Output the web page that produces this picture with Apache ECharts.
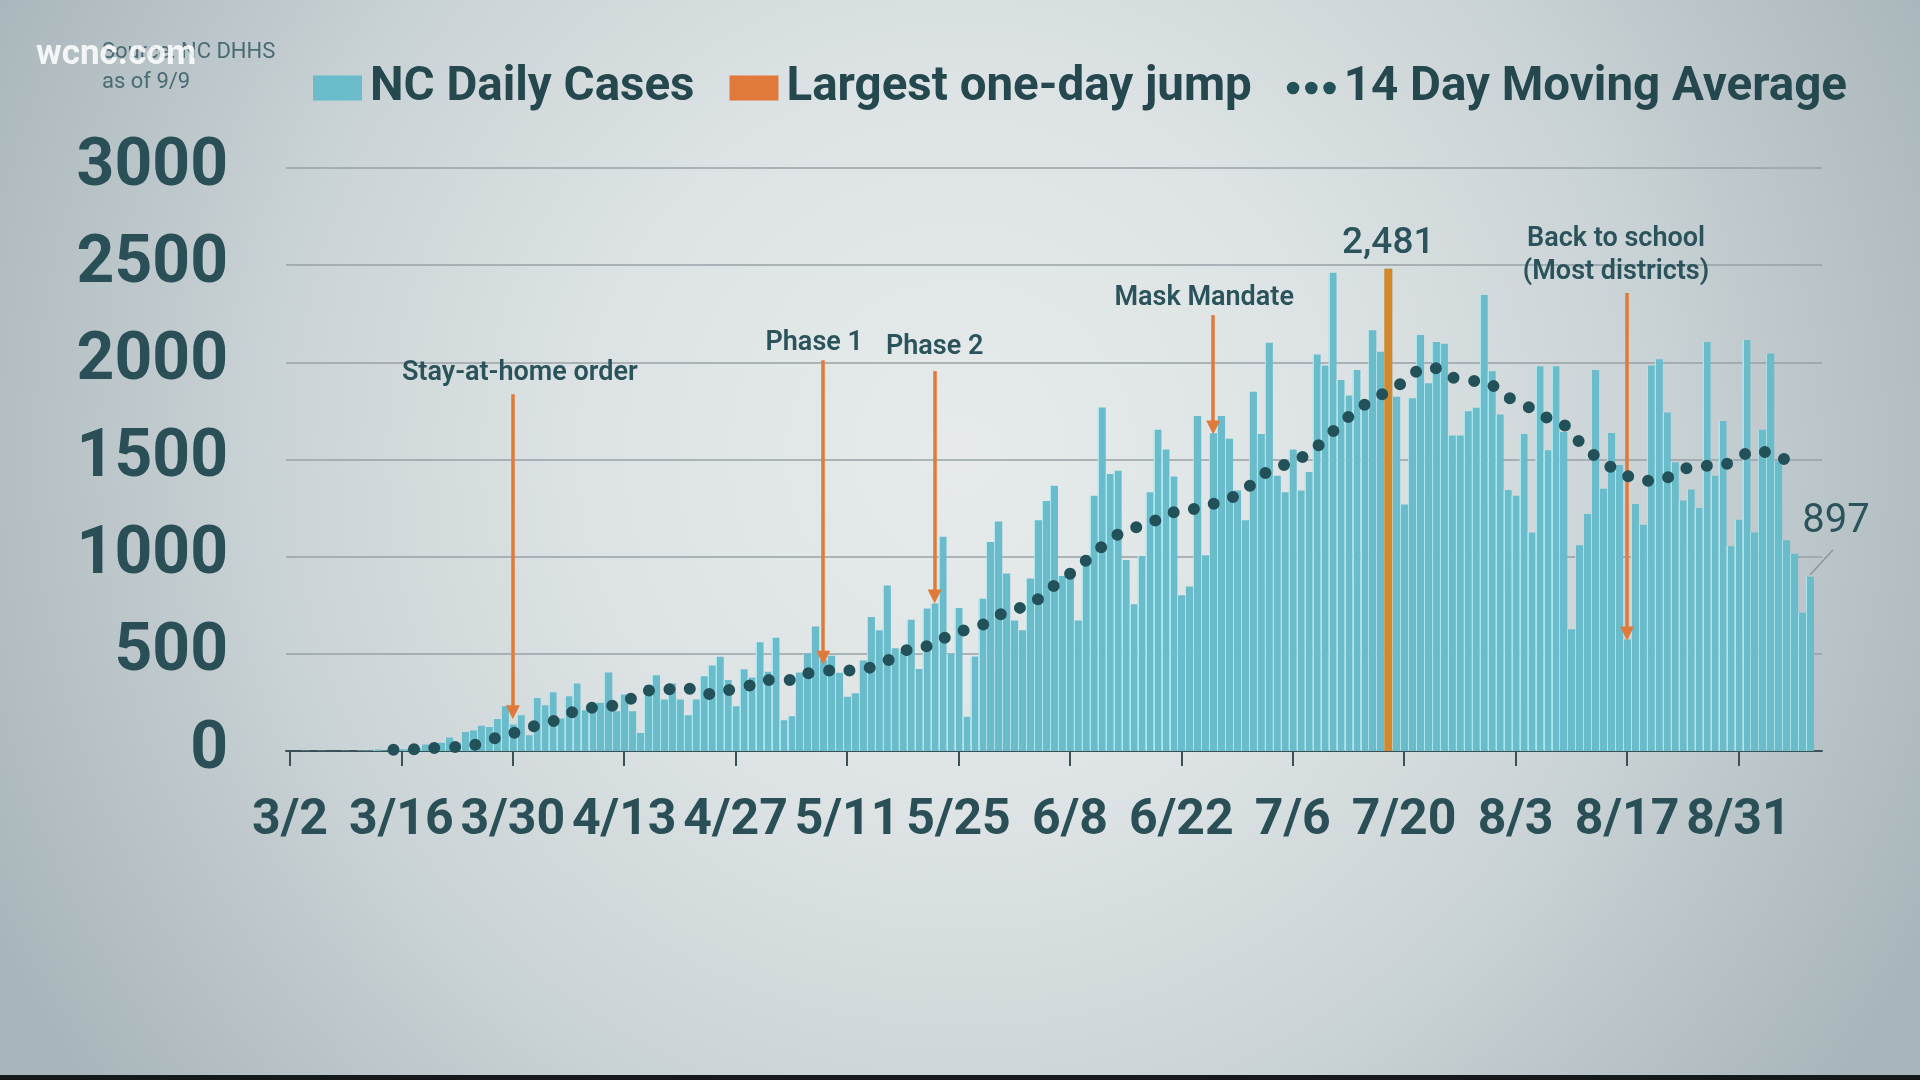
<!DOCTYPE html>
<html><head><meta charset="utf-8">
<script src="https://cdn.jsdelivr.net/npm/echarts@6/dist/echarts.min.js"></script>
<style>html,body{margin:0;padding:0;width:1920px;height:1080px;overflow:hidden;background:#cfd7da}#c{width:1920px;height:1080px}</style>
</head><body><div id="c"></div>
<script>
// ---- data ----
const startDate = [2020, 3, 2];
const dayCount = 193; // 3/2 .. 9/10 (last slot empty)
const tickLabels = ['3/2','3/16','3/30','4/13','4/27','5/11','5/25','6/8','6/22','7/6','7/20','8/3','8/17','8/31'];
const dailyCases = [
  0,0,1,0,1,0,0,1,0,3,2,8,3,6,
  9,10,14,33,38,43,69,41,98,106,130,123,165,230,137,184,81,273,235,302,
  167,282,347,210,224,248,404,205,291,205,93,339,390,265,347,265,184,265,385,440,485,365,230,421,378,559,408,583,158,179,404,502,
  641,469,490,403,279,297,466,690,621,852,529,509,676,422,733,759,1103,500,736,176,486,783,1076,1181,914,671,621,888,1188,1286,1365,900,938,
  671,1007,1313,1768,1426,1442,983,755,1003,1331,1653,1551,1412,802,846,1724,1007,1635,1724,1607,1341,1188,1849,1631,2101,1416,1331,1551,1341,1436,2040,
  1984,2461,1909,1829,1960,1784,2165,2054,2481,1823,1269,1815,2141,1893,2105,2095,1623,1623,1748,1766,2346,1954,1732,1343,1313,1631,1124,1980,1547,1980,1641,
  626,1059,1220,1960,1349,1637,1472,574,1271,1164,1984,2016,1742,1486,1289,1345,1251,2105,1416,1698,1053,1190,2115,1124,1653,2046,1490,1085,1015,712,897
];
const jumpDate = '7/18';
const jumpValue = 2481;
const jumpLabel = '2,481';
const maDates = ['3/15','3/18','3/20','3/23','3/26','3/28','3/31','4/2','4/5','4/7','4/10','4/13','4/15','4/18','4/21','4/23','4/26','4/29','5/1','5/4','5/6','5/9','5/12','5/14','5/17','5/19','5/22','5/24','5/26','5/29','5/31','6/3','6/5','6/7','6/9','6/11','6/13','6/15','6/18','6/20','6/23','6/25','6/27','6/30','7/2','7/4','7/6','7/8','7/10','7/12','7/14','7/16','7/18','7/20','7/22','7/24','7/26','7/29','7/31','8/2','8/5','8/7','8/9','8/11','8/13','8/15','8/17','8/19','8/22','8/24','8/27','8/29','8/31','9/2','9/5','9/7'];
const maValues = [7,10,15,21,38,69,103,132,165,210,227,244,304,316,322,291,313,339,365,365,399,414,414,431,483,529,547,603,624,665,721,750,819,880,943,1017,1084,1138,1168,1220,1239,1265,1281,1341,1422,1446,1502,1523,1607,1678,1758,1803,1855,1899,1964,1970,1923,1903,1883,1821,1762,1714,1682,1591,1517,1460,1416,1390,1406,1450,1468,1470,1512,1545,1520,1462];
const annotationDates = ['3/30','5/8','5/22','6/26','8/17'];
const annotationTexts = ['Stay-at-home order','Phase 1','Phase 2','Mask Mandate','Back to school\n(Most districts)'];
const annotationFrom = [1836, 2011, 1955, 2243, 2357];
const annotationTo = [200, 480, 795, 1665, 605];
const lastDate = '9/9';
const lastValue = 897;
const seriesNames = ['NC Daily Cases', 'Largest one-day jump', '14 Day Moving Average'];
const sourceLines = ['Source: NC DHHS', 'as of 9/9'];

// ---- build ----
const categories = [];
for (let i = 0; i < dayCount; i++) {
  const d = new Date(startDate[0], startDate[1] - 1, startDate[2] + i);
  categories.push((d.getMonth() + 1) + '/' + d.getDate());
}
const jumpData = categories.map(c => c === jumpDate ? jumpValue : '-');
const maData = maDates.map((d, i) => [d, maValues[i]]);
const isTick = (idx) => tickLabels.indexOf(categories[idx]) >= 0;

// styles (kept apart from data)
const annDx = [7, -9, 0, -9, -11];
const annGap = [21, 17, 24, 17, 21];
const ANN_LH = 33;
const TEXT = '#2b535b';
const TEAL = '#6bbccb';
const ORANGE_BAR = '#D4882C';
const ORANGE = '#E07A3A';
const DOT = '#23515a';

const chart = echarts.init(document.getElementById('c'), null, {renderer: 'canvas', width: 1920, height: 1080});

const option = {
  animation: false,
  backgroundColor: {
    type: 'radial', x: 0.5, y: 0.42, r: 1.0,
    colorStops: [
      {offset: 0, color: '#e6eaeb'},
      {offset: 0.35, color: '#dde3e4'},
      {offset: 0.65, color: '#c9d2d5'},
      {offset: 1, color: '#a8b5ba'}
    ]
  },
  textStyle: {fontFamily: 'Roboto'},
  grid: {left: 286, right: 98, top: 168, bottom: 329, containLabel: false},
  legend: {
    left: 308, top: 59,
    itemWidth: 49, itemHeight: 25, itemGap: 35,
    selectedMode: false,
    textStyle: {fontSize: 47.5, fontWeight: 'bold', color: '#25474e', fontFamily: 'Roboto', padding: [0, 0, 0, 3]},
    data: [
      {name: seriesNames[0], icon: 'rect', itemStyle: {color: TEAL}},
      {name: seriesNames[1], icon: 'rect', itemStyle: {color: ORANGE}},
      {name: seriesNames[2], icon: 'path://M5.5,5.5m-5.5,0a5.5,5.5 0 1,0 11,0a5.5,5.5 0 1,0 -11,0M21.5,5.5m-5.5,0a5.5,5.5 0 1,0 11,0a5.5,5.5 0 1,0 -11,0M37.5,5.5m-5.5,0a5.5,5.5 0 1,0 11,0a5.5,5.5 0 1,0 -11,0', itemStyle: {color: DOT}}
    ]
  },
  xAxis: {
    type: 'category', data: categories, boundaryGap: true,
    axisLine: {lineStyle: {color: '#3b5157', width: 2}},
    axisTick: {show: true, length: 15, alignWithLabel: true, interval: (i) => isTick(i), lineStyle: {color: '#3b5157', width: 2}},
    axisLabel: {interval: (i) => isTick(i), showMinLabel: true, showMaxLabel: true, hideOverlap: false, fontSize: 50, fontWeight: 'bold', color: '#2a4f57', margin: 45, fontFamily: 'Roboto'},
    splitLine: {show: false}
  },
  yAxis: {
    type: 'value', min: 0, max: 3000, interval: 500,
    axisLine: {show: false}, axisTick: {show: false},
    axisLabel: {formatter: (v) => String(v), fontSize: 66, fontWeight: 'bold', color: '#2a4f57', margin: 58, padding: [10, 0, 0, 0], fontFamily: 'Roboto'},
    splitLine: {lineStyle: {color: '#97a2a6', width: 1.5}}
  },
  series: [
    {
      name: seriesNames[0], type: 'bar', data: dailyCases, barCategoryGap: '0%', barGap: '-100%', z: 2,
      itemStyle: {
        color: new echarts.graphic.LinearGradient(0, 0, 1, 0, [
          {offset: 0, color: '#a9e6ef'}, {offset: 0.14, color: '#a9e6ef'},
          {offset: 0.14, color: TEAL}, {offset: 1, color: TEAL}
        ])
      },
      markLine: {
        silent: true, animation: false,
        symbol: ['none', 'triangle'], symbolSize: [14, 14],
        lineStyle: {color: ORANGE, width: 3.5, type: 'solid'},
        label: {show: false},
        emphasis: {disabled: true},
        data: annotationDates.map((d, i) => [{coord: [d, annotationFrom[i]]}, {coord: [d, annotationTo[i]]}])
      }
    },
    {
      name: seriesNames[1], type: 'bar', data: jumpData, barCategoryGap: '0%', barGap: '-100%', z: 3,
      itemStyle: {color: ORANGE_BAR},
      label: {show: true, position: 'top', distance: 7, formatter: () => jumpLabel, fontSize: 37, fontWeight: 500, color: TEXT, fontFamily: 'Roboto'}
    },
    {
      name: seriesNames[2], type: 'line', data: maData, symbol: 'none', smooth: 0.25, z: 5,
      color: DOT,
      lineStyle: {color: DOT, width: 12, type: [0, 20.5], cap: 'round'}
    }
  ]
};
chart.setOption(option);

function px(cat, v) {
  return chart.convertToPixel({gridIndex: 0}, [categories.indexOf(cat), v]);
}
const graphics = [];
annotationDates.forEach((d, i) => {
  const p = px(d, annotationFrom[i]);
  graphics.push({
    type: 'text', x: p[0] + annDx[i], y: p[1] - annGap[i] + ANN_LH / 2, silent: true, z: 10,
    style: {text: annotationTexts[i], fontSize: 27, fontWeight: 600, fill: TEXT, fontFamily: 'Roboto', align: 'center', verticalAlign: 'bottom', lineHeight: ANN_LH}
  });
});
const lp = px(lastDate, lastValue);
graphics.push({type: 'line', silent: true, z: 10, shape: {x1: lp[0], y1: lp[1] - 2, x2: lp[0] + 23, y2: lp[1] - 27}, style: {stroke: '#8a979b', lineWidth: 1.5}});
graphics.push({type: 'text', silent: true, z: 10, x: lp[0] + 26, y: lp[1] - 55, style: {text: String(lastValue), fontSize: 40, fontWeight: 'normal', fill: TEXT, fontFamily: 'Roboto', align: 'center', verticalAlign: 'middle'}});
graphics.push({type: 'text', silent: true, z: 10, x: 102, y: 52, style: {text: sourceLines[0], fontSize: 22, fill: '#4a6b73', fontFamily: 'Roboto', align: 'left', verticalAlign: 'middle'}});
graphics.push({type: 'text', silent: true, z: 10, x: 102, y: 82, style: {text: sourceLines[1], fontSize: 22, fill: '#4a6b73', fontFamily: 'Roboto', align: 'left', verticalAlign: 'middle'}});
graphics.push({type: 'text', silent: true, z: 11, x: 36, y: 55, style: {text: 'wcnc.com', fontSize: 35, fontWeight: 'bold', fill: 'rgba(255,255,255,0.85)', fontFamily: 'Roboto', align: 'left', verticalAlign: 'middle'}});
graphics.push({type: 'rect', silent: true, z: 11, shape: {x: 0, y: 1075, width: 1920, height: 5}, style: {fill: '#16191b'}});
chart.setOption({graphic: graphics});
</script></body></html>
